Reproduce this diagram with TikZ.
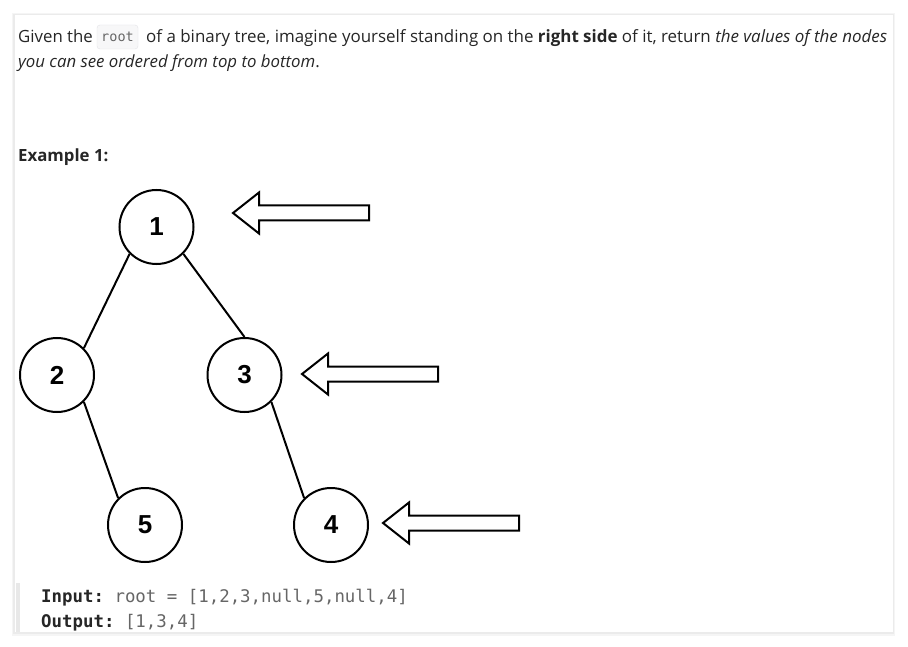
\documentclass[tikz,border=0pt]{standalone}
\usepackage{fontspec}
\setmainfont{Open Sans}
\setmonofont{DejaVu Sans Mono}
\newfontfamily\digitfont{Liberation Sans}
\usetikzlibrary{positioning}
\definecolor{bodytext}{HTML}{262626}
\definecolor{codegray}{HTML}{666666}
\definecolor{codefill}{HTML}{F7F7F8}
\definecolor{codeline}{HTML}{E4E4E7}

\begin{document}
\begin{tikzpicture}[x=1pt,y=-1pt,
  treenode/.style={circle,draw,line width=2pt,minimum size=74pt,inner sep=0pt,
    font=\digitfont\bfseries\fontsize{26}{26}\selectfont},
  branch/.style={line width=2pt},
  blockarrow/.style={draw,line width=2pt,fill=white,line join=miter},
  bodyline/.style={anchor=base west,inner sep=0pt,text=bodytext,
    font=\fontsize{16.8}{20}\selectfont},
  codebox/.style={draw=codeline,fill=codefill,rounded corners=3pt,minimum width=41pt,
    minimum height=24pt,inner sep=0pt,text=codegray,font=\ttfamily\fontsize{13.5}{16}\selectfont},
  ioline/.style={anchor=base west,inner sep=0pt,text=bodytext,
    font=\ttfamily\fontsize{17.4}{20}\selectfont}]
\useasboundingbox (0,0) rectangle (908,647);
% card
\fill[black!4] (12,13) rectangle (895,636);
\fill[black!8] (13,14) rectangle (894,634);
\fill[white] (15,15) rectangle (893,632);
% text
\node[bodyline] (given) at (18,43) {Given the};
\node[codebox] (root) at (117.5,37) {root};
\node[bodyline,font=\fontsize{16.93}{20}\selectfont] (line1) at (146,43) {of a binary tree, imagine yourself standing on the \textbf{right side} of it, return \textit{the values of the nodes}};
\node[bodyline] (line2) at (18,68) {\textit{you can see ordered from top to bottom}.};
\node[bodyline] (example) at (18,162) {\textbf{Example 1:}};
% tree
\node[treenode] (n1) at (156.5,227) {1};
\node[treenode] (n2) at (57,375) {2};
\node[treenode] (n3) at (244.5,375) {3};
\node[treenode] (n5) at (145,525) {5};
\node[treenode] (n4) at (331,525) {4};
\draw[branch] (n1.south west) -- (n2.north east);
\draw[branch] (n1.south east) -- (n3.north);
\draw[branch] (n2.south east) -- (n5.north west);
\draw[branch] (n3.south east) -- (n4.north west);
% arrows
\draw[blockarrow,shift={(233,213)}] (0,0) -- (26,-20.5) -- (26,-7.5) -- (136,-7.5) -- (136,7.5) -- (26,7.5) -- (26,20.5) -- cycle;
\draw[blockarrow,shift={(302,374)}] (0,0) -- (26,-20.5) -- (26,-7.5) -- (136,-7.5) -- (136,7.5) -- (26,7.5) -- (26,20.5) -- cycle;
\draw[blockarrow,shift={(383,523)}] (0,0) -- (26,-20.5) -- (26,-7.5) -- (136,-7.5) -- (136,7.5) -- (26,7.5) -- (26,20.5) -- cycle;
% input / output
\fill[black!9] (16,583) rectangle (19.5,632);
\node[ioline] (input) at (41,602) {\textbf{Input:} \textcolor{codegray}{root = [1,2,3,null,5,null,4]}};
\node[ioline] (output) at (41,627) {\textbf{Output:} \textcolor{codegray}{[1,3,4]}};
\end{tikzpicture}
\end{document}
